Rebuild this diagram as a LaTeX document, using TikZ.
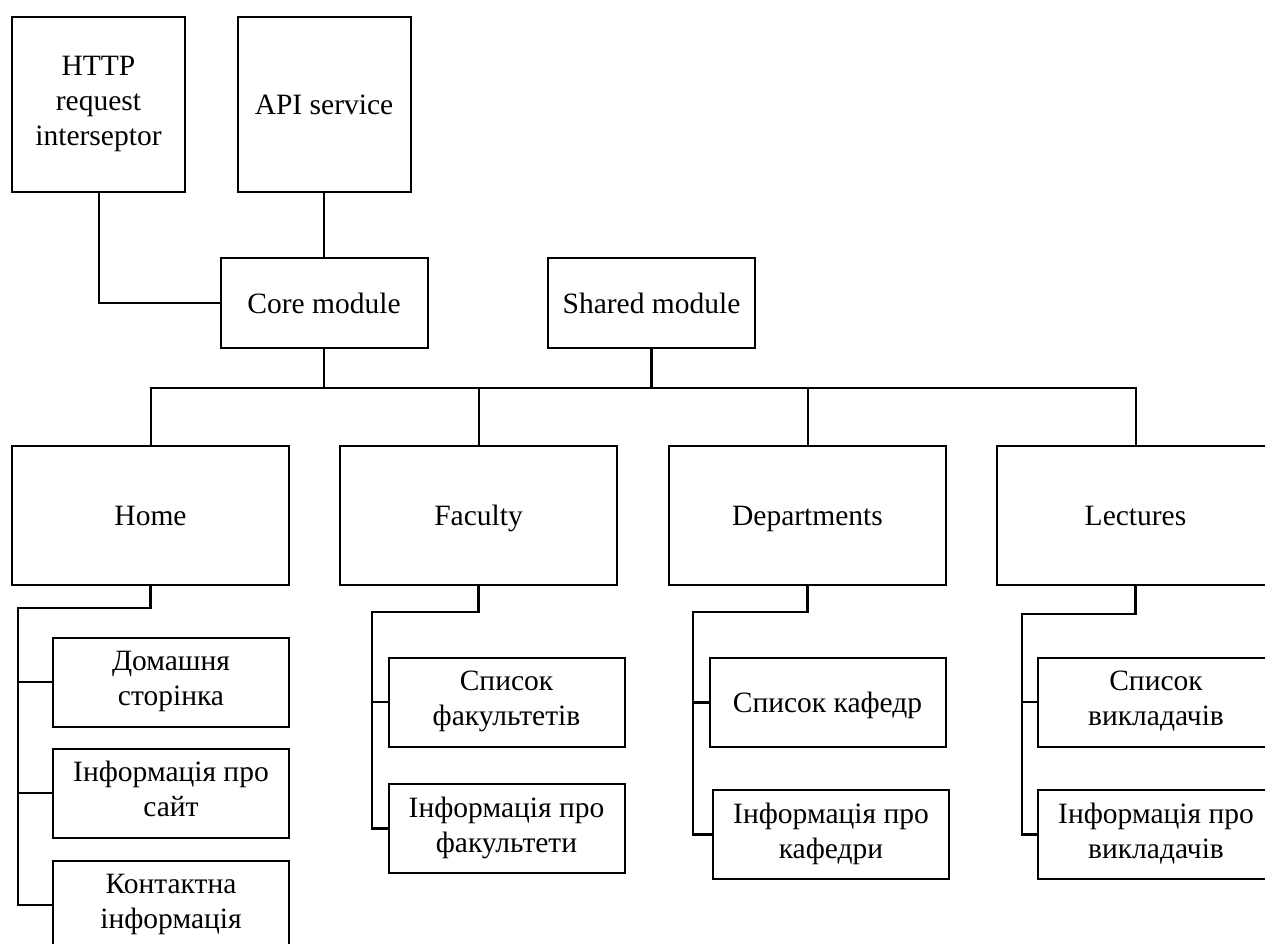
\documentclass[tikz,border=0pt]{standalone}
\usepackage{fontspec}
\setmainfont{Liberation Serif}
% line strut: 27.5pt above and 7.5pt below the baseline, one baselineskip in total
\newcommand{\linestrut}{\rule[-7.5pt]{0pt}{35pt}}
\begin{document}
\begin{tikzpicture}[x=1pt,y=-1pt,
  every node/.style={font=\fontsize{29.5}{35}\selectfont, align=center, inner sep=0pt, outer sep=0pt,
    execute at begin node=\linestrut, execute at end node=\linestrut},
  topbox/.style={draw, line width=2pt, minimum width=173pt, minimum height=175pt},
  modbox/.style={draw, line width=2pt, minimum width=207pt, minimum height=90pt},
  pagebox/.style={draw, line width=2pt, minimum width=277pt, minimum height=139pt},
  subbox/.style={draw, line width=2pt, minimum width=236pt, minimum height=89pt},
  link/.style={line width=2pt},
  branch/.style={line width=2.8pt}]
\clip (0,0) rectangle (1265,944);
\fill[white] (0,0) rectangle (1265,944);

% services and modules
\node[topbox] (http) at (98.5,104.5) {HTTP\\request\\interseptor};
\node[topbox] (api) at (324,104.5) {API service};
\node[modbox] (core) at (324,303) {Core module};
\node[modbox] (shared) at (651.5,303) {Shared module};

% feature pages
\node[pagebox] (home) at (150.5,515.5) {Home};
\node[pagebox] (faculty) at (478.5,515.5) {Faculty};
\node[pagebox] (dept) at (807.5,515.5) {Departments};
\node[pagebox] (lect) at (1135.5,515.5) {Lectures};

% page components
\node[subbox] (h1) at (171,682) {Домашня\\сторінка};
\node[subbox] (h2) at (171,793) {Інформація про\\сайт};
\node[subbox] (h3) at (171,905) {Контактна\\інформація};
\node[subbox] (f1) at (506.5,702) {Список\\факультетів};
\node[subbox] (f2) at (506.5,828.5) {Інформація про\\факультети};
\node[subbox] (d1) at (827.5,702.5) {Список кафедр};
\node[subbox] (d2) at (831,834.5) {Інформація про\\кафедри};
\node[subbox] (l1) at (1156,702) {Список\\викладачів};
\node[subbox] (l2) at (1156,834.5) {Інформація про\\викладачів};

% bus and elbow levels
\coordinate (bus) at (0,388);
\coordinate (hk) at (0,608);
\coordinate (fk) at (0,612);
\coordinate (dk) at (0,612);
\coordinate (lk) at (0,614);

% core dependencies
\draw[link] (http.south) |- (core.west);
\draw[link] (api.south) -- (core.north);

% modules to pages
\draw[link] (core.south) -- (core.south |- bus);
\draw[branch] (shared.south) -- (shared.south |- bus);
\draw[link] (home.north) -- (home.north |- bus) -- (lect.north |- bus) -- (lect.north);
\draw[link] (faculty.north) -- (faculty.north |- bus);
\draw[link] (dept.north) -- (dept.north |- bus);

% Home components
\coordinate (hx) at (18,0);
\draw[branch] (home.south) -- (home.south |- hk) -- (hx |- hk) -- (hx |- h3.west) -- (h3.west);
\draw[branch] (hx |- h1.west) -- (h1.west);
\draw[branch] (hx |- h2.west) -- (h2.west);

% Faculty components
\coordinate (fx) at (372,0);
\draw[branch] (faculty.south) -- (faculty.south |- fk) -- (fx |- fk) -- (fx |- f2.west) -- (f2.west);
\draw[branch] (fx |- f1.west) -- (f1.west);

% Departments components
\coordinate (dx) at (693,0);
\draw[branch] (dept.south) -- (dept.south |- dk) -- (dx |- dk) -- (dx |- d2.west) -- (d2.west);
\draw[branch] (dx |- d1.west) -- (d1.west);

% Lectures components
\coordinate (lx) at (1022,0);
\draw[branch] (lect.south) -- (lect.south |- lk) -- (lx |- lk) -- (lx |- l2.west) -- (l2.west);
\draw[branch] (lx |- l1.west) -- (l1.west);
\end{tikzpicture}
\end{document}
